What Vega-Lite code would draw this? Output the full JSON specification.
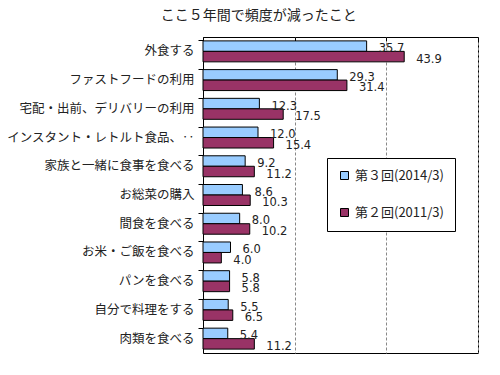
{
  "$schema": "https://vega.github.io/schema/vega-lite/v6.json",
  "width": 275,
  "height": 316,
  "padding": {"left": 5, "top": 8, "right": 22, "bottom": 20},
  "background": "white",
  "title": {
    "text": "ここ５年間で頻度が減ったこと",
    "font": "Noto Sans CJK JP",
    "fontSize": 14,
    "fontWeight": "normal",
    "color": "#222222",
    "anchor": "middle",
    "frame": "bounds",
    "dx": 17,
    "offset": 14
  },
  "data": {
    "values": [
      {"item": "外食する", "series": "第３回(2014/3)", "value": 35.7},
      {"item": "外食する", "series": "第２回(2011/3)", "value": 43.9},
      {"item": "ファストフードの利用", "series": "第３回(2014/3)", "value": 29.3},
      {"item": "ファストフードの利用", "series": "第２回(2011/3)", "value": 31.4},
      {"item": "宅配・出前、デリバリーの利用", "series": "第３回(2014/3)", "value": 12.3},
      {"item": "宅配・出前、デリバリーの利用", "series": "第２回(2011/3)", "value": 17.5},
      {"item": "インスタント・レトルト食品、‥", "series": "第３回(2014/3)", "value": 12.0},
      {"item": "インスタント・レトルト食品、‥", "series": "第２回(2011/3)", "value": 15.4},
      {"item": "家族と一緒に食事を食べる", "series": "第３回(2014/3)", "value": 9.2},
      {"item": "家族と一緒に食事を食べる", "series": "第２回(2011/3)", "value": 11.2},
      {"item": "お総菜の購入", "series": "第３回(2014/3)", "value": 8.6},
      {"item": "お総菜の購入", "series": "第２回(2011/3)", "value": 10.3},
      {"item": "間食を食べる", "series": "第３回(2014/3)", "value": 8.0},
      {"item": "間食を食べる", "series": "第２回(2011/3)", "value": 10.2},
      {"item": "お米・ご飯を食べる", "series": "第３回(2014/3)", "value": 6.0},
      {"item": "お米・ご飯を食べる", "series": "第２回(2011/3)", "value": 4.0},
      {"item": "パンを食べる", "series": "第３回(2014/3)", "value": 5.8},
      {"item": "パンを食べる", "series": "第２回(2011/3)", "value": 5.8},
      {"item": "自分で料理をする", "series": "第３回(2014/3)", "value": 5.5},
      {"item": "自分で料理をする", "series": "第２回(2011/3)", "value": 6.5},
      {"item": "肉類を食べる", "series": "第３回(2014/3)", "value": 5.4},
      {"item": "肉類を食べる", "series": "第２回(2011/3)", "value": 11.2}
    ]
  },
  "encoding": {
    "y": {
      "field": "item",
      "type": "nominal",
      "sort": null,
      "title": null,
      "scale": {"paddingInner": 0.27, "paddingOuter": 0.135},
      "axis": {
        "labelFont": "Noto Sans CJK JP",
        "labelFontSize": 12.5,
        "labelColor": "#222222",
        "labelLimit": 300,
        "labelPadding": 4,
        "domainColor": "#000000",
        "tickColor": "#000000",
        "tickSize": 5,
        "bandPosition": 0,
        "minExtent": 198,
        "maxExtent": 198
      }
    },
    "yOffset": {
      "field": "series",
      "type": "nominal",
      "sort": ["第３回(2014/3)", "第２回(2011/3)"],
      "scale": {"paddingInner": 0, "paddingOuter": 0}
    },
    "x": {
      "field": "value",
      "type": "quantitative",
      "title": null,
      "scale": {"domain": [0, 60], "nice": false},
      "axis": {
        "orient": "top",
        "values": [0, 20, 40, 60],
        "labels": false,
        "domain": false,
        "ticks": true,
        "tickSize": -4,
        "tickColor": "#000000",
        "grid": true,
        "gridColor": "#888888",
        "gridDash": [3, 2],
        "gridWidth": 1
      }
    }
  },
  "layer": [
    {
      "mark": {"type": "bar", "stroke": "#000000", "strokeWidth": 1},
      "encoding": {
        "color": {
          "field": "series",
          "type": "nominal",
          "scale": {
            "domain": ["第３回(2014/3)", "第２回(2011/3)"],
            "range": ["#99CCFF", "#993366"]
          },
          "legend": {
            "title": null,
            "orient": "none",
            "legendX": 124,
            "legendY": 121,
            "direction": "vertical",
            "symbolType": "square",
            "symbolSize": 64,
            "symbolStrokeColor": "#000000",
            "symbolStrokeWidth": 1,
            "symbolOpacity": 1,
            "labelFont": "Noto Sans CJK JP",
            "labelFontSize": 13,
            "labelColor": "#222222",
            "labelLimit": 200,
            "rowPadding": 23,
            "padding": 11,
            "strokeColor": "#000000",
            "fillColor": "#ffffff"
          }
        }
      }
    },
    {
      "mark": {
        "type": "text",
        "align": "left",
        "baseline": "middle",
        "dx": 12,
        "dy": 3,
        "font": "DejaVu Sans",
        "fontSize": 11.5,
        "color": "#222222"
      },
      "encoding": {
        "text": {"field": "value", "type": "quantitative", "format": ".1f"}
      }
    }
  ],
  "config": {
    "view": {"stroke": "#000000", "strokeWidth": 1}
  }
}
